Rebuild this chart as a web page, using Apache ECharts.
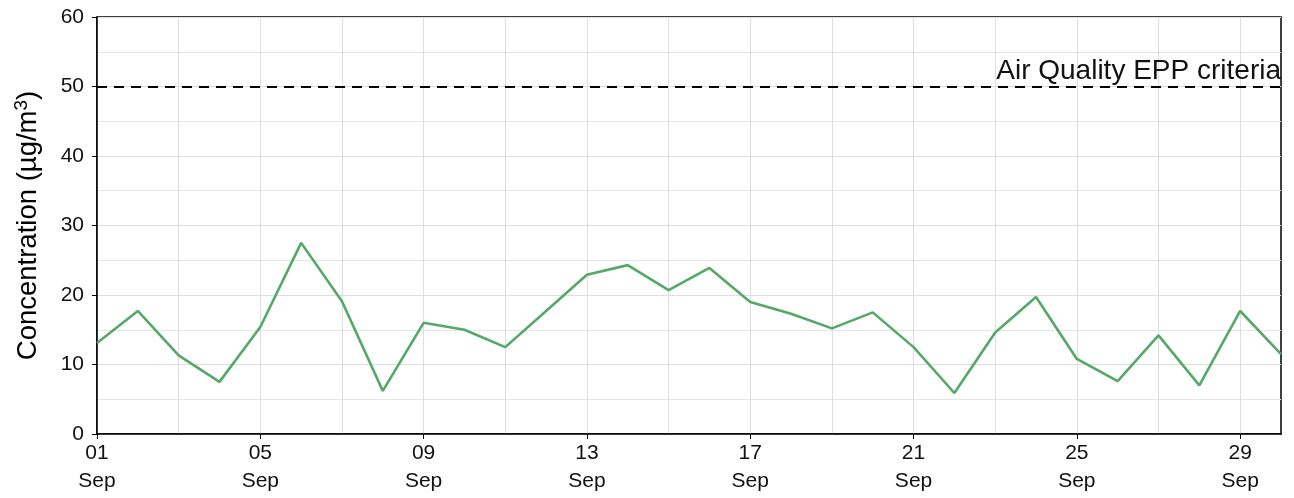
<!DOCTYPE html>
<html>
<head>
<meta charset="utf-8">
<script src="https://cdn.jsdelivr.net/npm/echarts@6/dist/echarts.min.js"></script>
<style>html,body{margin:0;padding:0;background:#fff}#c{width:1294px;height:498px}</style>
</head>
<body>
<div id="c"></div>
<script>
const days = ['01','02','03','04','05','06','07','08','09','10','11','12','13','14','15','16','17','18','19','20','21','22','23','24','25','26','27','28','29','30'];
const month = 'Sep';
const concentration = [13.1,17.7,11.3,7.5,15.4,27.5,19.1,6.2,16.0,15.0,12.5,17.7,22.9,24.3,20.7,23.9,19.0,17.3,15.2,17.5,12.5,5.9,14.6,19.7,10.8,7.6,14.2,7.0,17.7,11.5];
const criteria = 50;
const criteriaLabel = 'Air Quality EPP criteria';
const yTicks = [0,10,20,30,40,50,60];

const chart = echarts.init(document.getElementById('c'));
const FONT = 'Liberation Sans, Arial, sans-serif';
chart.setOption({
  animation:false,
  grid:{left:97,right:13,top:17,bottom:64,show:true,borderColor:'#000',borderWidth:1.5,backgroundColor:'transparent'},
  xAxis:{
    type:'category',
    boundaryGap:false,
    data:days.map(d=>d+'\n'+month),
    axisLine:{lineStyle:{color:'#000',width:1.5}},
    axisTick:{show:true,interval:3,length:5,lineStyle:{color:'#000'}},
    axisLabel:{interval:3,color:'#111',fontSize:21,fontFamily:FONT,lineHeight:28,margin:5},
    splitLine:{show:true,interval:1,lineStyle:{color:'#dedede',width:1}}
  },
  yAxis:{
    type:'value',min:yTicks[0],max:yTicks[yTicks.length-1],interval:10,
    name:'{a|Concentration (µg/m}{s|3}{a|)}',nameLocation:'middle',nameGap:53,
    nameTextStyle:{color:'#000',fontFamily:FONT,rich:{
      a:{fontSize:27.5,fontFamily:FONT,color:'#000'},
      s:{fontSize:19,fontFamily:FONT,color:'#000',verticalAlign:'bottom',padding:[0,0,13,0]}
    }},
    axisLine:{show:true,lineStyle:{color:'#000',width:1.5}},
    axisTick:{show:true,length:5,lineStyle:{color:'#000'}},
    axisLabel:{color:'#111',fontSize:21,fontFamily:FONT,margin:13},
    splitLine:{show:true,lineStyle:{color:'#dedede',width:1}},
    minorTick:{show:false,splitNumber:2},
    minorSplitLine:{show:true,lineStyle:{color:'#e6e6e6',width:1}}
  },
  series:[{
    type:'line',
    data:concentration,
    symbol:'none',
    lineStyle:{color:'#55a868',width:2.6},
    itemStyle:{color:'#55a868'},
    markLine:{
      silent:true,symbol:['none','none'],
      data:[{yAxis:criteria}],
      lineStyle:{color:'#000',type:[10,7],width:2},
      label:{show:true,position:'insideEndTop',formatter:criteriaLabel,color:'#111',fontSize:28,fontFamily:FONT,distance:[0,1]}
    }
  }]
});
</script>
</body>
</html>
